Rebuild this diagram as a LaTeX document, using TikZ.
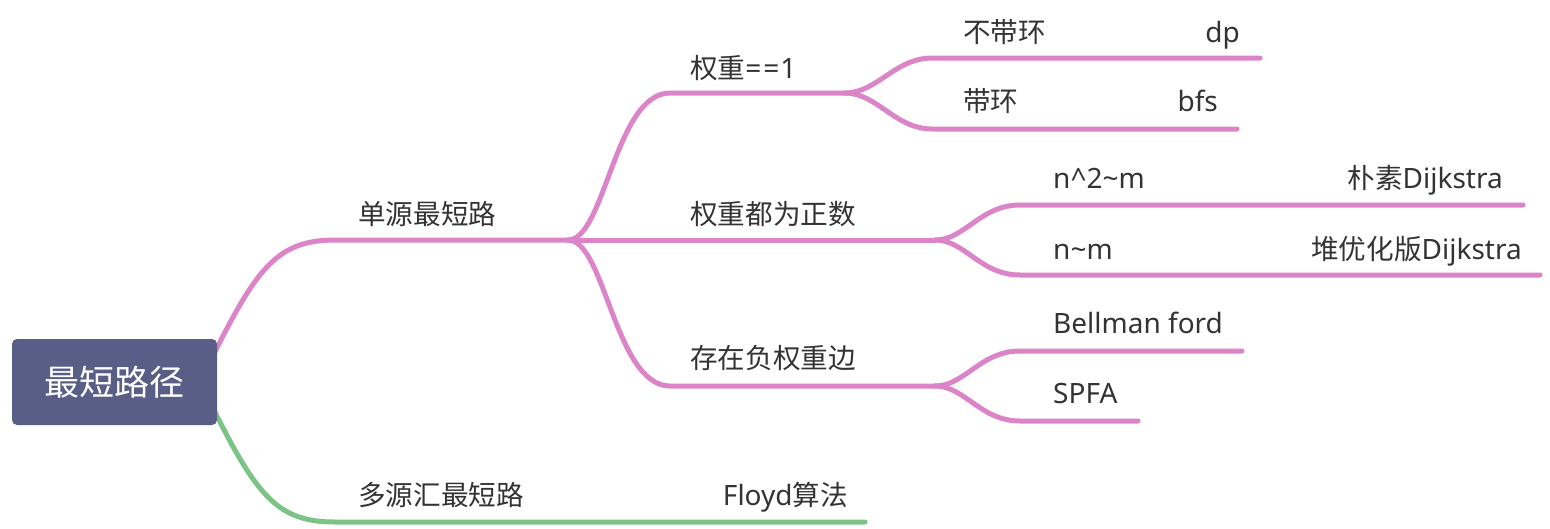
\documentclass[tikz,border=0pt]{standalone}
\usepackage{fontspec}
\setmainfont{Noto Sans}
\newfontfamily\cjk{Noto Sans CJK SC}
\newfontfamily\latf{Noto Sans}
\newcommand\lat[1]{{\latf\fontsize{28}{32}\selectfont #1}}
\usetikzlibrary{calc}
\definecolor{pinkline}{HTML}{DC84C8}
\definecolor{greenline}{HTML}{7CC485}
\definecolor{rootfill}{HTML}{585E86}
\definecolor{txt}{HTML}{333333}
\begin{document}
\begin{tikzpicture}[x=1pt,y=-1pt,
  branch/.style={line width=5pt, line cap=round, draw=pinkline},
  gbranch/.style={branch, draw=greenline},
  lbl/.style={anchor=base west, inner sep=0pt, text=txt, font=\cjk\fontsize{27.6}{32}\selectfont},
  rlbl/.style={lbl, anchor=base east}]
\useasboundingbox (0,0) rectangle (1550,528);
% junction coordinates
\coordinate (s1) at (205,372);
\coordinate (s2) at (205,392);
\coordinate (a0) at (335,240); \coordinate (a1) at (568,240);
\coordinate (b0) at (670,93);  \coordinate (b1) at (845,93);
\coordinate (c1) at (935,240);
\coordinate (d0) at (670,386); \coordinate (d1) at (935,386);
\coordinate (e0) at (932,58);  \coordinate (e1) at (1260,58);
\coordinate (f0) at (932,129); \coordinate (f1) at (1237,129);
\coordinate (g0) at (1020,205); \coordinate (g1) at (1523,205);
\coordinate (h0) at (1020,275); \coordinate (h1) at (1540,275);
\coordinate (i0) at (1020,351); \coordinate (i1) at (1242,351);
\coordinate (j0) at (1020,421); \coordinate (j1) at (1138,421);
\coordinate (k0) at (335,522); \coordinate (k1) at (865,522);
% branches
\draw[branch] (s1) .. controls (255,270) and (275,240) .. (a0) -- (a1);
\draw[gbranch] (s2) .. controls (255,494) and (275,522) .. (k0) -- (k1);
\draw[branch] (a1) .. controls (605,240) and (615,93) .. (b0) -- (b1);
\draw[branch] (a1) -- (c1);
\draw[branch] (a1) .. controls (605,240) and (615,386) .. (d0) -- (d1);
\draw[branch] (b1) .. controls (877,93) and (895,58) .. (e0) -- (e1);
\draw[branch] (b1) .. controls (877,93) and (895,129) .. (f0) -- (f1);
\draw[branch] (c1) .. controls (965,240) and (980,205) .. (g0) -- (g1);
\draw[branch] (c1) .. controls (965,240) and (980,275) .. (h0) -- (h1);
\draw[branch] (d1) .. controls (965,386) and (980,351) .. (i0) -- (i1);
\draw[branch] (d1) .. controls (965,386) and (980,421) .. (j0) -- (j1);
% root
\node[fill=rootfill, rounded corners=5pt, minimum width=205pt, minimum height=86pt,
      inner sep=0pt, text=white, font=\cjk\fontsize{35}{40}\selectfont] (root) at (114.5,382) {最短路径};
% labels
\node[lbl] (n1) at (358,224) {单源最短路};
\node[lbl] (n2) at (358,505) {多源汇最短路};
\node[rlbl] (n2r) at (848,505) {\lat{Floyd}算法};
\node[lbl] (n11) at (690,78) {权重\lat{=\kern2pt=\kern1pt1}};
\node[lbl] (n12) at (690,224) {权重都为正数};
\node[lbl] (n13) at (690,368) {存在负权重边};
\node[lbl] (n111) at (963,42) {不带环};
\node[rlbl] (n111r) at (1240,42) {\lat{dp}};
\node[lbl] (n112) at (963,111) {带环};
\node[rlbl] (n112r) at (1218,111) {\lat{bfs}};
\node[lbl] (n121) at (1053,188) {\lat{n\char`\^2\char`\~m}};
\node[rlbl] (n121r) at (1503,188) {朴素\lat{Dijkstra}};
\node[lbl] (n122) at (1053,259) {\lat{n\char`\~m}};
\node[rlbl] (n122r) at (1522,259) {堆优化版\lat{Dijkstra}};
\node[lbl] (n131) at (1053,333) {\lat{Bellman ford}};
\node[lbl] (n132) at (1053,403) {\lat{SPFA}};
\end{tikzpicture}
\end{document}
